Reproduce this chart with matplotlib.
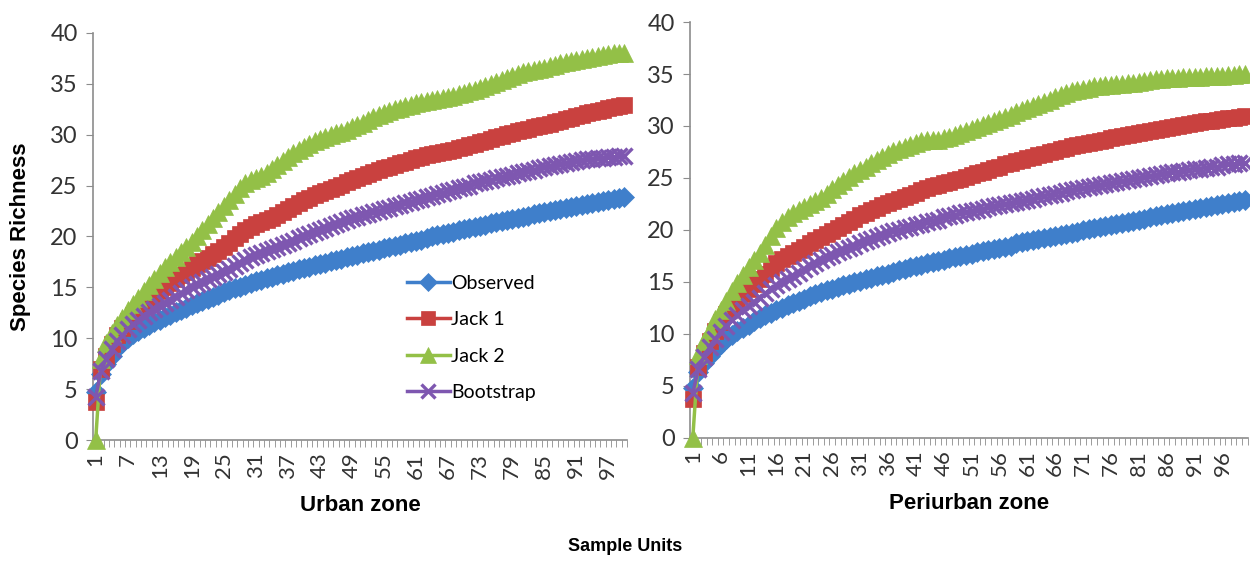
import matplotlib
matplotlib.use("Agg")
import matplotlib.pyplot as plt

samples = list(range(1, 101))

# Urban zone
urban_observed = [4.7, 6.5, 7.5, 8.3, 9.0, 9.5, 10.0, 10.4, 10.7, 11.0,
                  11.3, 11.6, 11.8, 12.1, 12.3, 12.6, 12.8, 13.0, 13.3, 13.5,
                  13.7, 13.9, 14.1, 14.3, 14.5, 14.7, 14.9, 15.0, 15.2, 15.4,
                  15.6, 15.7, 15.9, 16.0, 16.2, 16.3, 16.5, 16.6, 16.8, 16.9,
                  17.0, 17.2, 17.3, 17.4, 17.6, 17.7, 17.8, 18.0, 18.1, 18.2,
                  18.4, 18.5, 18.6, 18.7, 18.9, 19.0, 19.1, 19.2, 19.4, 19.5,
                  19.6, 19.7, 19.8, 20.0, 20.1, 20.2, 20.3, 20.4, 20.6, 20.7,
                  20.8, 20.9, 21.0, 21.1, 21.3, 21.4, 21.5, 21.6, 21.7, 21.8,
                  21.9, 22.0, 22.2, 22.3, 22.4, 22.5, 22.6, 22.7, 22.8, 22.9,
                  23.0, 23.1, 23.2, 23.3, 23.4, 23.5, 23.6, 23.7, 23.8, 23.9]
urban_jack1 = [3.7, 7.0, 8.3, 9.4, 10.3, 11.0, 11.7, 12.3, 12.8, 13.3,
               13.8, 14.2, 14.6, 15.0, 15.4, 15.8, 16.2, 16.5, 16.9, 17.3,
               17.6, 17.9, 18.3, 18.6, 19.0, 19.4, 19.8, 20.2, 20.6, 20.9,
               21.2, 21.4, 21.6, 21.8, 22.1, 22.4, 22.7, 23.0, 23.3, 23.6,
               23.8, 24.1, 24.3, 24.5, 24.7, 24.9, 25.1, 25.3, 25.5, 25.7,
               25.9, 26.1, 26.3, 26.5, 26.7, 26.8, 27.0, 27.2, 27.3, 27.5,
               27.7, 27.8, 28.0, 28.1, 28.2, 28.3, 28.4, 28.5, 28.7, 28.8,
               29.0, 29.1, 29.3, 29.4, 29.6, 29.8, 29.9, 30.1, 30.2, 30.4,
               30.5, 30.6, 30.7, 30.8, 30.9, 31.0, 31.2, 31.3, 31.5, 31.6,
               31.8, 31.9, 32.1, 32.2, 32.3, 32.4, 32.6, 32.7, 32.8, 32.9]
urban_jack2 = [0.0, 8.0, 9.5, 10.5, 11.3, 12.0, 12.8, 13.4, 14.0, 14.6,
               15.2, 15.8, 16.4, 17.0, 17.5, 18.0, 18.5, 19.0, 19.5, 20.0,
               20.6, 21.2, 21.8, 22.4, 23.0, 23.6, 24.2, 24.8, 25.2, 25.5,
               25.7, 25.9, 26.2, 26.6, 27.0, 27.4, 27.8, 28.2, 28.5, 28.8,
               29.1, 29.4, 29.6, 29.8, 30.0, 30.2, 30.3, 30.5, 30.7, 30.9,
               31.1, 31.4, 31.7, 31.9, 32.1, 32.3, 32.5, 32.6, 32.8, 32.9,
               33.1, 33.2, 33.3, 33.4, 33.5, 33.6, 33.7, 33.8, 34.0, 34.1,
               34.3, 34.4, 34.6, 34.8, 35.0, 35.2, 35.4, 35.6, 35.8, 36.0,
               36.1, 36.2, 36.3, 36.4, 36.5, 36.7, 36.8, 37.0, 37.1, 37.2,
               37.3, 37.4, 37.5, 37.6, 37.7, 37.8, 37.9, 38.0, 38.0, 38.0]
urban_bootstrap = [4.2, 6.8, 8.0, 8.9, 9.7, 10.3, 10.9, 11.4, 11.8, 12.2,
                   12.6, 12.9, 13.2, 13.5, 13.8, 14.1, 14.4, 14.7, 15.0, 15.3,
                   15.5, 15.8, 16.0, 16.3, 16.5, 16.8, 17.1, 17.4, 17.7, 18.0,
                   18.2, 18.4, 18.6, 18.8, 19.0, 19.2, 19.4, 19.6, 19.8, 20.0,
                   20.2, 20.4, 20.6, 20.8, 21.0, 21.2, 21.4, 21.6, 21.8, 21.9,
                   22.1, 22.2, 22.4, 22.5, 22.7, 22.8, 23.0, 23.1, 23.3, 23.4,
                   23.6, 23.7, 23.9, 24.0, 24.2, 24.3, 24.5, 24.6, 24.8, 24.9,
                   25.0, 25.2, 25.3, 25.4, 25.5, 25.7, 25.8, 25.9, 26.0, 26.2,
                   26.3, 26.4, 26.5, 26.7, 26.8, 26.9, 27.0, 27.1, 27.2, 27.3,
                   27.4, 27.5, 27.6, 27.6, 27.7, 27.7, 27.8, 27.8, 27.9, 27.9]

# Periurban zone
peri_observed = [4.8, 6.3, 7.2, 7.9, 8.5, 9.0, 9.5, 9.9, 10.3, 10.6,
                 10.9, 11.2, 11.5, 11.8, 12.0, 12.3, 12.5, 12.8, 13.0, 13.2,
                 13.4, 13.6, 13.8, 14.0, 14.2, 14.3, 14.5, 14.7, 14.8, 15.0,
                 15.1, 15.3, 15.4, 15.6, 15.7, 15.8, 16.0, 16.1, 16.2, 16.4,
                 16.5, 16.6, 16.8, 16.9, 17.0, 17.1, 17.3, 17.4, 17.5, 17.6,
                 17.7, 17.9, 18.0, 18.1, 18.2, 18.3, 18.4, 18.5, 18.7, 18.8,
                 18.9, 19.0, 19.1, 19.2, 19.3, 19.4, 19.5, 19.6, 19.7, 19.8,
                 20.0, 20.1, 20.2, 20.3, 20.4, 20.5, 20.6, 20.7, 20.8, 20.9,
                 21.0, 21.1, 21.2, 21.3, 21.4, 21.5, 21.6, 21.7, 21.8, 21.9,
                 22.0, 22.1, 22.2, 22.3, 22.4, 22.5, 22.6, 22.7, 22.8, 22.9]
peri_jack1 = [3.7, 6.8, 8.2, 9.3, 10.3, 11.1, 11.9, 12.6, 13.2, 13.8,
              14.3, 14.8, 15.3, 15.8, 16.3, 16.8, 17.2, 17.5, 17.8, 18.1,
              18.4, 18.7, 19.0, 19.3, 19.6, 19.9, 20.2, 20.5, 20.8, 21.1,
              21.4, 21.6, 21.9, 22.1, 22.4, 22.6, 22.8, 23.0, 23.2, 23.4,
              23.6, 23.8, 24.0, 24.2, 24.3, 24.5, 24.6, 24.8, 24.9, 25.1,
              25.3, 25.5, 25.6, 25.8, 26.0, 26.1, 26.3, 26.4, 26.6, 26.7,
              26.9, 27.0, 27.2, 27.3, 27.5, 27.6, 27.8, 27.9, 28.1, 28.2,
              28.3, 28.4, 28.5, 28.6, 28.7, 28.8, 28.9, 29.0, 29.1, 29.2,
              29.3, 29.4, 29.5, 29.6, 29.7, 29.8, 29.9, 30.0, 30.1, 30.2,
              30.3, 30.4, 30.5, 30.5, 30.6, 30.7, 30.8, 30.8, 30.9, 31.0]
peri_jack2 = [0.0, 8.0, 9.3, 10.4, 11.4, 12.3, 13.2, 14.1, 14.9, 15.7,
              16.4, 17.1, 17.8, 18.6, 19.4, 20.2, 20.8, 21.2, 21.6, 21.9,
              22.2, 22.5, 22.8, 23.1, 23.5, 23.9, 24.3, 24.7, 25.1, 25.5,
              25.8, 26.1, 26.4, 26.7, 27.0, 27.3, 27.6, 27.8, 28.0, 28.2,
              28.4, 28.6, 28.7, 28.7, 28.7, 28.8, 28.9, 29.1, 29.3, 29.5,
              29.7, 29.9, 30.1, 30.3, 30.5, 30.7, 30.9, 31.1, 31.3, 31.5,
              31.7, 31.9, 32.1, 32.3, 32.5, 32.8, 33.0, 33.2, 33.4, 33.5,
              33.6, 33.7, 33.8, 33.8, 33.9, 33.9, 34.0, 34.0, 34.1, 34.1,
              34.2, 34.3, 34.4, 34.5, 34.5, 34.6, 34.6, 34.6, 34.7, 34.7,
              34.7, 34.7, 34.8, 34.8, 34.8, 34.8, 34.9, 34.9, 35.0, 35.0]
peri_bootstrap = [4.3, 6.6, 7.8, 8.7, 9.5, 10.2, 10.8, 11.3, 11.8, 12.3,
                  12.7, 13.1, 13.5, 13.9, 14.3, 14.7, 15.0, 15.3, 15.6, 15.9,
                  16.2, 16.5, 16.8, 17.1, 17.4, 17.6, 17.9, 18.1, 18.3, 18.5,
                  18.7, 18.9, 19.1, 19.3, 19.5, 19.7, 19.9, 20.0, 20.2, 20.3,
                  20.5, 20.6, 20.8, 20.9, 21.0, 21.2, 21.3, 21.4, 21.6, 21.7,
                  21.8, 21.9, 22.0, 22.2, 22.3, 22.4, 22.5, 22.6, 22.7, 22.8,
                  22.9, 23.0, 23.2, 23.3, 23.4, 23.5, 23.6, 23.7, 23.8, 23.9,
                  24.0, 24.1, 24.2, 24.3, 24.4, 24.5, 24.6, 24.7, 24.8, 24.9,
                  25.0, 25.1, 25.2, 25.3, 25.4, 25.5, 25.6, 25.6, 25.7, 25.8,
                  25.9, 25.9, 26.0, 26.1, 26.1, 26.2, 26.3, 26.3, 26.4, 26.4]

series_names = ["Observed", "Jack 1", "Jack 2", "Bootstrap"]
urban_ticks = list(range(1, 101, 6))
peri_ticks = list(range(1, 101, 5))

colors = ["#3F7FCB", "#C9413F", "#93C047", "#7E57B0"]
markers = ["D", "s", "^", "x"]
msizes = [10.5, 11.5, 13, 11.5]

tick_font = "Lato"
gray = "#8C8C8C"

fig = plt.figure(figsize=(12.5, 5.65), dpi=100)
ax1 = fig.add_axes([0.0744, 0.221, 0.4272, 0.721])
ax2 = fig.add_axes([0.552, 0.225, 0.446, 0.736])


def draw_panel(ax, data, ticks, xlabel):
    for i, vals in enumerate(data):
        ax.plot(samples, vals, color=colors[i], marker=markers[i],
                markersize=msizes[i], markeredgewidth=2.4 if markers[i] == "x" else 0.5,
                markeredgecolor=colors[i], linewidth=2.5, zorder=3 + i,
                label=series_names[i], clip_on=False)
    ax.set_xlim(0.5, 100.5)
    ax.set_ylim(0, 40)
    ax.set_yticks(range(0, 41, 5))
    ax.set_xticks(ticks)
    ax.set_xticklabels([str(t) for t in ticks], rotation=90,
                       fontsize=16, family=tick_font, color="#333333")
    ax.set_xticks([s + 0.5 for s in range(0, 101)], minor=True)
    ax.tick_params(axis="x", which="major", length=0, pad=9)
    ax.tick_params(axis="x", which="minor", length=5, color=gray, direction="out")
    ax.tick_params(axis="y", length=5, color=gray, labelsize=17,
                   labelcolor="#333333", pad=6)
    for lab in ax.get_yticklabels():
        lab.set_family(tick_font)
    for sp in ["top", "right"]:
        ax.spines[sp].set_visible(False)
    for sp in ["left", "bottom"]:
        ax.spines[sp].set_color(gray)
        ax.spines[sp].set_linewidth(1.2)
    ax.set_xlabel(xlabel, fontsize=16, fontweight="bold",
                  family="Liberation Sans", labelpad=12)


draw_panel(ax1, [urban_observed, urban_jack1, urban_jack2, urban_bootstrap],
           urban_ticks, "Urban zone")
draw_panel(ax2, [peri_observed, peri_jack1, peri_jack2, peri_bootstrap],
           peri_ticks, "Periurban zone")

ax1.set_ylabel("Species Richness", fontsize=16, fontweight="bold",
               family="Liberation Sans", labelpad=14)

ax1.legend(loc="upper left", bbox_to_anchor=(0.57, 0.43), frameon=False,
           prop={"family": tick_font, "size": 14}, labelspacing=1.0,
           handlelength=2.2, handletextpad=0.05, borderpad=0,
           markerscale=0.85)

fig.text(0.5, 0.025, "Sample Units", ha="center", fontsize=13,
         fontweight="bold", family="Liberation Sans")

fig.savefig("out.png", dpi=100)
